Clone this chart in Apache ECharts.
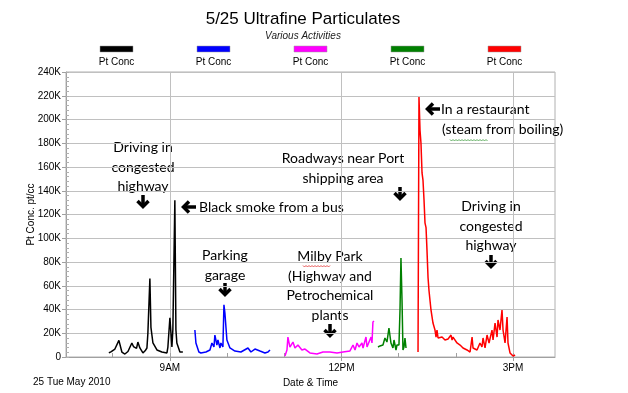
<!DOCTYPE html>
<html><head><meta charset="utf-8">
<script src="https://cdn.jsdelivr.net/npm/echarts@6/dist/echarts.min.js"></script>
<style>html,body{margin:0;padding:0;background:#fff}#c{width:628px;height:393px}</style>
</head><body><div id="c"></div>
<script>
// time in minutes after midnight, values in thousands of particles/cc
const blackTime = [476,478.5,482.3,484,486.5,489.6,492.8,496,498,500.1,501.8,503.3,505,506.4,508.5,511.7,514,515.9,516.9,519,520.1,522.2,526.4,531.6,536.9,537.9,540,542.1,543.1,545.2,546.3,547.3,550.5,553.6];
const blackVal  = [3.4,4.6,6.7,5.5,14,4.2,2.5,4.6,5.9,11.8,8.8,10.1,7.2,12.6,7.6,3.4,5.2,7.6,20,66,25,11.8,5.9,4.2,3.4,8.4,33,8.4,23,132,23,11.8,4.2,4.2];
const blueTime = [566.2,567.3,570.4,572.5,577.8,582,584.1,586.2,587.2,589.3,590.4,592.5,593.5,595.6,596.7,597.7,599.8,603,608.2,614.5,621.9,625,629.2,634.5,639.7,642.9,645];
const blueVal  = [22.7,11.8,4.2,3.4,4.2,5.9,11.8,8.4,18.5,10.1,14.3,7.6,11.8,8.4,44,37,14.3,7.6,5,4.2,7.6,4.2,6.7,5,3.4,4.2,5.9];
const magentaTime = [660.7,662.8,663.8,665.9,669.1,671.2,674.3,678.5,681.7,686.9,694.3,700.6,707.9,715.3,721.6,728.9,732.1,734.2,736.3,738.4,741.5,742.6,745.7,746.8,748.9,751,752,753,754.1];
const magentaVal  = [0.8,5.9,16.8,8.4,12.6,7.6,10.1,5.9,6.7,3.4,2.5,4.2,4.2,3.4,4.2,5.1,10.1,5.9,11.8,8.4,11.8,7.6,16.8,8.4,12.6,16.8,11.8,29.5,30.3];
const greenTime = [758.3,760.4,763.5,765.6,767.7,769.8,771.9,774,775.1,777.2,778.2,780.3,781.4,782.4,783.5,784.5,785.6,786.6,787.7];
const greenVal  = [8.4,9.3,10.1,16,12.6,24.4,11.8,7.6,14.3,5.9,10.1,10.1,39.6,83.4,48,5.9,8.4,16,7.6];
const redTime = [800.3,801.3,802.4,803.4,804.5,805.5,806.6,807.6,808.7,809.7,810.8,811.8,813.9,815,816,818.1,819.2,820.2,821.3,825.5,828.6,831.8,834.9,836,837,841.2,844.4,847.5,851.7,854.9,857,858,862.2,865.3,867.4,868.5,870.6,872.7,874.8,877.9,879,881.1,883.2,884.2,886.3,888.4,889.5,891.6,893.7,894.7,896.8,900,902.1];
const redVal  = [4.2,218.9,191,180,155,149,132,113,109,90,67,56,39.6,33.7,28.6,22.7,16.8,22.7,16,16.8,14.3,15.2,18.5,14.3,16.8,11.8,10.1,7.6,5.9,4.2,16.8,7.6,5.9,11.8,8.4,16,7.6,18.5,11.8,22.7,14.3,28.6,16.8,31.2,22.7,39.6,22.7,11.8,33.7,11.8,3.4,0.8,1.7];

const seriesNames = ['Pt Conc','Pt Conc','Pt Conc','Pt Conc','Pt Conc'];
const seriesColors = ['#000000','#0000ff','#ff00ff','#008000','#ff0000'];
const xLabelTicks = [540,720,900];
const xLabelText = {540:'9AM',720:'12PM',900:'3PM'};
const xHourTicks = [480,540,600,660,720,780,840,900];
const dateLabel = '25 Tue May 2010';

const seriesData = [[blackTime,blackVal],[blueTime,blueVal],[magentaTime,magentaVal],[greenTime,greenVal],[redTime,redVal]];

const AF = 'Lato, "Open Sans", sans-serif';
const annotations = [
  {text:'Driving in\ncongested\nhighway', x:143, y:138, align:'center'},
  {text:'Black smoke from a bus', x:199, y:198, align:'left'},
  {text:'Parking\ngarage', x:225, y:246, align:'center'},
  {text:'Milby Park\n(Highway and\nPetrochemical\nplants', x:330, y:247, align:'center'},
  {text:'Roadways near Port\nshipping area', x:343, y:149, align:'center'},
  {text:'In a restaurant', x:441, y:100, align:'left'},
  {text:'(steam from boiling)', x:442, y:120, align:'left'},
  {text:'Driving in\ncongested\nhighway', x:491, y:197, align:'center'}
];
const downArrows = [[143,195],[225,283],[330,324],[400,187],[491,255]];
const leftArrows = [[183,207],[427,109]];
const squiggles = [[303,331,266,'#e03030'],[450,488,140,'#3a9a3a']];

const graphics = [];
annotations.forEach(a => graphics.push({type:'text', x:a.x, y:a.y, style:{text:a.text, font:'14px '+AF, fill:'#000', align:a.align, verticalAlign:'top', lineHeight:19.5}}));
downArrows.forEach(([x,y]) => {
  graphics.push({type:'line', shape:{x1:x,y1:y,x2:x,y2:y+12}, style:{stroke:'#000', lineWidth:3.5}});
  graphics.push({type:'polyline', shape:{points:[[x-5.5,y+6],[x,y+11.5],[x+5.5,y+6]]}, style:{stroke:'#000', lineWidth:3.5, fill:null, lineJoin:'miter'}});
});
leftArrows.forEach(([x,y]) => {
  graphics.push({type:'line', shape:{x1:x,y1:y,x2:x+13,y2:y}, style:{stroke:'#000', lineWidth:3.5}});
  graphics.push({type:'polyline', shape:{points:[[x+6,y-5.5],[x+0.5,y],[x+6,y+5.5]]}, style:{stroke:'#000', lineWidth:3.5, fill:null, lineJoin:'miter'}});
});
squiggles.forEach(([x0,x1,y,c]) => {
  const pts = [];
  for (let x = x0, k = 0; x <= x1; x += 1.5, k++) pts.push([x, y + (k % 2 ? 1 : -0.5)]);
  graphics.push({type:'polyline', shape:{points:pts}, style:{stroke:c, lineWidth:0.8, fill:null}});
});
// legend (swatch above label)
seriesNames.forEach((n,i) => {
  const cx = 116.5 + i*97;
  graphics.push({type:'rect', shape:{x:cx-16.5,y:46,width:33,height:6}, style:{fill:seriesColors[i], stroke:'#999', lineWidth:0.5}});
  graphics.push({type:'text', x:cx, y:57, style:{text:n, font:'10px "Liberation Sans", Arial, sans-serif', fill:'#000', align:'center', verticalAlign:'top'}});
});
graphics.push({type:'text', x:33, y:377, style:{text:dateLabel, font:'10px "Liberation Sans", Arial, sans-serif', fill:'#000', align:'left', verticalAlign:'top'}});

const chart = echarts.init(document.getElementById('c'), null, {renderer:'canvas'});
const axisFont = {fontFamily:'"Liberation Sans", Arial, sans-serif', fontSize:10, color:'#000'};
chart.setOption({
  animation:false,
  backgroundColor:'#fff',
  title:{text:'5/25 Ultrafine Particulates', subtext:'Various Activities', left:298, textAlign:'center', top:6, itemGap:3,
    textStyle:{fontFamily:'"Liberation Sans", Arial, sans-serif', fontSize:17, fontWeight:'normal', color:'#000'},
    subtextStyle:{fontFamily:'"Liberation Sans", Arial, sans-serif', fontSize:10, fontStyle:'italic', color:'#222'}},
  grid:{left:66, right:73, top:72, bottom:36, show:true, borderColor:'#b0b0b0', borderWidth:1},
  xAxis:[
    {type:'value', min:431, max:944, position:'bottom',
      name:'Date & Time', nameLocation:'middle', nameGap:21, nameMoveOverlap:false, nameTextStyle:axisFont,
      axisLine:{lineStyle:{color:'#a0a0a0'}},
      axisTick:{show:true, customValues:xLabelTicks, length:4, lineStyle:{color:'#a0a0a0'}},
      axisLabel:{customValues:xLabelTicks, formatter:v=>xLabelText[v]||'', margin:6, ...axisFont},
      splitLine:{show:true, lineStyle:{color:'#c0c0c0'}}},
    {type:'value', min:431, max:944, position:'bottom',
      axisLine:{show:false},
      axisTick:{show:true, inside:true, customValues:xHourTicks, length:4, lineStyle:{color:'#a0a0a0'}},
      axisLabel:{show:false}, splitLine:{show:false}}
  ],
  yAxis:[
    {type:'value', min:0, max:240, interval:20,
      name:'Pt Conc. pt/cc', nameLocation:'middle', nameGap:30, nameMoveOverlap:false, nameTextStyle:axisFont,
      axisLine:{show:true, lineStyle:{color:'#a0a0a0'}},
      axisTick:{show:true, length:4, lineStyle:{color:'#a0a0a0'}},
      axisLabel:{formatter:v=> v===0?'0':v+'K', margin:5, ...axisFont},
      splitLine:{show:true, lineStyle:{color:'#c0c0c0'}}},
    {type:'value', min:0, max:240, interval:4, position:'left',
      axisLine:{show:false},
      axisTick:{show:true, inside:true, length:3, lineStyle:{color:'#b0b0b0'}},
      axisLabel:{show:false}, splitLine:{show:false}}
  ],
  series: seriesData.map((d,i)=>({
    name:seriesNames[i], type:'line', xAxisIndex:0, yAxisIndex:0, symbol:'none',
    lineStyle:{color:seriesColors[i], width:1.5}, itemStyle:{color:seriesColors[i]},
    data:d[0].map((t,k)=>[t,d[1][k]])
  })),
  graphic:graphics
});
</script></body></html>
